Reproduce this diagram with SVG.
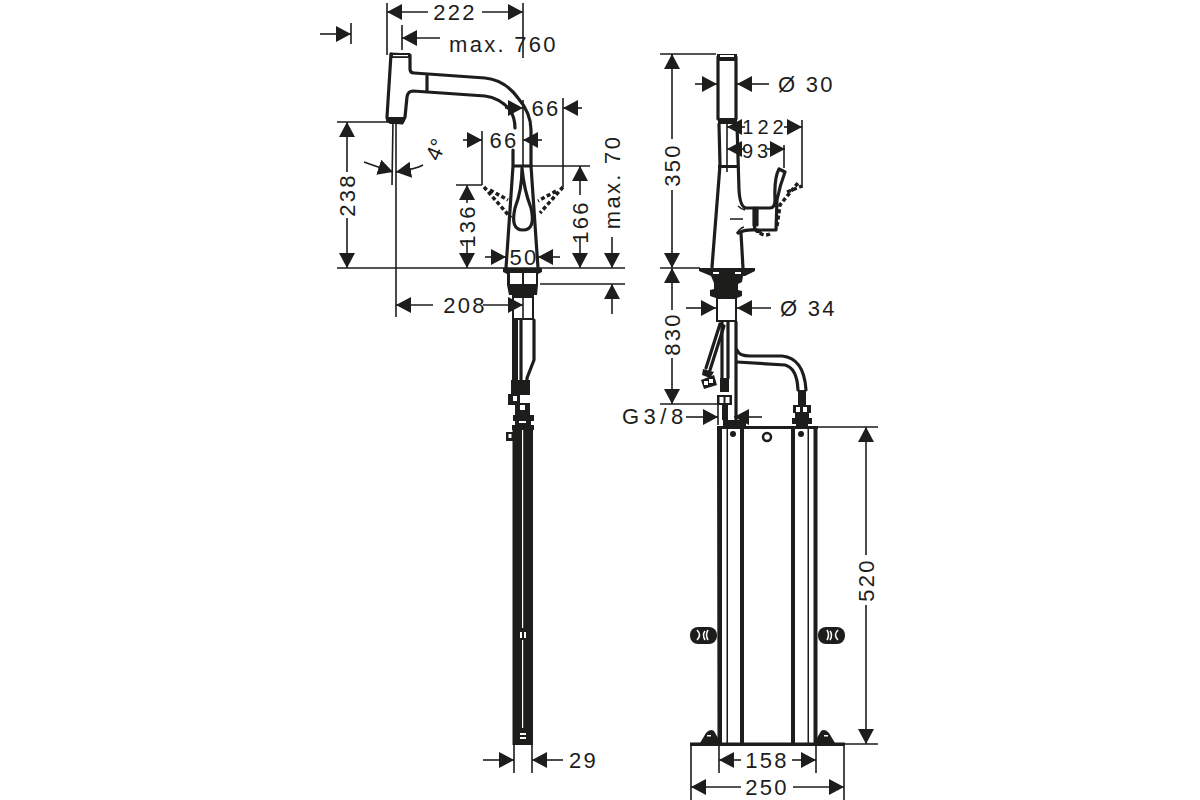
<svg xmlns="http://www.w3.org/2000/svg" width="1200" height="800" viewBox="0 0 1200 800">
<style>
text{font-family:"Liberation Sans",Arial,sans-serif;font-size:22px;fill:#1d1d1b;letter-spacing:2.3px}
.m{text-anchor:middle}
.n{font-size:20px;letter-spacing:4px}
.d{stroke:#1d1d1b;stroke-width:1.6;fill:none}
.a{stroke:#1d1d1b;stroke-width:1.6;fill:none;marker-end:url(#ar)}
.o{stroke:#1d1d1b;stroke-width:3.2;fill:none;stroke-linejoin:round;stroke-linecap:round}
.t{stroke:#1d1d1b;stroke-width:1.5;fill:none}
.s{stroke:#1d1d1b;stroke-width:3.5;fill:none;stroke-dasharray:4 2.5}
.v{stroke:#fff;stroke-width:1.5;fill:none}
.k{fill:#1d1d1b}
.w{fill:#fff}
</style>
<defs>
<marker id="ar" markerUnits="userSpaceOnUse" markerWidth="16" markerHeight="18" refX="15" refY="9" orient="auto"><path d="M0 1L15 9L0 17Z" fill="#1d1d1b"/></marker>
</defs>
<rect width="1200" height="800" fill="#fff"/>

<g id="faucet-side">
<path class="o" d="M391 54L410 55L410 69Q410 73 414 73L485 78Q505 80 518 98Q531 113 531 130L531 166"/>
<path class="o" d="M391 54L387 117Q387 121 391 122L402 123L405 117L407 97Q408 91 413 91L485 96Q500 98 510 110Q515 118 515 128"/>
<rect class="k" x="391" y="53" width="19" height="5"/>
<rect class="w" x="393" y="55" width="15" height="1.200"/>
<path class="k" d="M386 117H405V121L402 124H390L386 121Z"/>
<path class="o" d="M427 76L427 90"/>
<path class="o" d="M513 150L513 166M513 166L531 166M513 166L506 268M531 166L538 268"/>
<path class="o" d="M522 168Q522 190 515 208Q510 230 523 230Q536 230 531 208Q524 190 522 168"/>
<path class="s" d="M484 187L511 218M490 190L508 200M563 187L540 213M556 191L538 201"/>
<path class="k" d="M503 268H542V272L538 274V285L537 295H534V320H512V295H509L507 285V274L503 272Z"/>
<rect class="w" x="510" y="273" width="12" height="11"/>
<rect class="w" x="524" y="273" width="12" height="11"/>
<rect class="w" x="514" y="298" width="18" height="20"/>
<path class="d" d="M523 298V318"/>
<path class="k" d="M510 285H537V292L529 296L522 297L514 294Z"/>
<path class="k" d="M512 320H518V382H512Z"/>
<path class="o" d="M521 320V380M534 320V360L527 378V385"/>
<path class="k" d="M511 380H530V395H511ZM508 394H520V405H508ZM515 403H530V416H515ZM513 415H534V421H531V425H534V430H512V425H515V421H513ZM506 432H514V441H506ZM512.500 425H533V745H512.500Z"/>
<rect class="w" x="513" y="396" width="4" height="5"/>
<rect class="w" x="520" y="405" width="5" height="5"/>
<rect class="w" x="508.500" y="434" width="3" height="4"/>
<rect class="w" x="519" y="421" width="7" height="2"/>
<rect class="w" x="522" y="430" width="1.200" height="198"/>
<rect class="w" x="522" y="640" width="1.200" height="88"/>
<rect class="w" x="520" y="632" width="2" height="6"/>
<rect class="w" x="524" y="632" width="2" height="6"/>
<rect class="w" x="520" y="733" width="6" height="2"/>
<rect class="w" x="520" y="737" width="6" height="2"/>
</g>

<g id="faucet-front">
<path class="o" d="M718 57V119M736 57V119"/>
<rect class="k" x="717" y="54" width="20" height="7"/>
<rect class="w" x="720" y="55" width="14" height="2"/>
<rect class="k" x="718" y="118" width="19" height="6"/>
<rect class="k" x="718" y="165" width="19" height="3"/>
<path class="o" d="M719 124L720 165L712 267M737 124L739 190Q740 207 746 208L770 208Q775 208 775 200Q774 178 779 169L785 172Q780 185 777 200L776 230L757 230"/>
<path class="o" d="M754 208V225Q755 232 760 232M757 208V225M738 233Q745 229 757 230M741 233L743 268"/>
<path class="t" d="M738 206Q741 209 745 210M730 219H743M737 233Q740 228 744 227"/>
<path class="s" d="M770 234Q763 237 757 231M777 226L780 205L792 190L798 183M787 192L802 186"/>
<path class="k" d="M699 268H755V271L745 276H743L742 282L738 284V290L742 291V296L737 298V322H716V298L710 296V290L714 289V283L711 276L699 271Z"/>
<rect class="w" x="713" y="272" width="6" height="2"/>
<rect class="w" x="735" y="272" width="6" height="2"/>
<rect class="w" x="718" y="299" width="17" height="21"/>
<path class="o" d="M722 322V378M728 322V378"/>
<path class="k" d="M720 378H729V392H720ZM717 395H732V405H717ZM722 405H728V420H722ZM723 420H746V427H723Z"/>
<rect class="w" x="719.500" y="397" width="4" height="6"/>
<rect class="w" x="725.500" y="397" width="4" height="6"/>
<path class="o" d="M736 322V420"/>
<path class="o" d="M720 324L706 368M724 326L710 370"/>
<path class="k" d="M703 369L714 372L710 378L702 375Z"/>
<path class="k" d="M701 380L714 375L717 385L704 389Z"/>
<rect class="w" x="704" y="381" width="4" height="4"/>
<rect class="w" x="709" y="379" width="4" height="4"/>
<path class="o" d="M737 350Q739 356 750 356H782Q804 358 806 390M737 362L785 365Q797 368 798 390"/>
<path class="k" d="M798 390H806V405H811V413H809V418H812V424H808V427H796V424H792V418H795V413H793V405H798Z"/>
<rect class="w" x="796" y="407" width="4" height="5"/>
<rect class="w" x="803" y="407" width="4" height="5"/>
</g>

<g id="mounting-box">
<path class="k" d="M717 426H818V429H817.500V744H813.500V429H795V744H791V429H744V744H740V429H722V744H717.500Z"/>
<rect class="k" x="726.500" y="429" width="1.500" height="315"/>
<rect class="k" x="807.500" y="429" width="1.500" height="315"/>
<circle class="k" cx="733" cy="434" r="3"/>
<circle class="k" cx="801" cy="434" r="3"/>
<circle cx="767" cy="437" r="4" fill="#fff" stroke="#1d1d1b" stroke-width="2.500"/>
<rect class="k" x="690" y="742.500" width="155" height="3.500"/>
<path class="k" d="M700 743L706 733Q710 728 714 731L718 738V743Z"/>
<path class="k" d="M835 743L829 733Q825 728 821 731L817 738V743Z"/>
<rect class="w" x="707" y="735" width="4" height="1.500"/>
<rect class="w" x="824" y="735" width="4" height="1.500"/>
<rect class="k" x="690" y="627" width="27" height="17" rx="8"/>
<rect class="k" x="818" y="627" width="27" height="17" rx="8"/>
<path class="v" d="M697 630Q702 635 697 640M705 631Q702 635 705 640M708 630Q705 635 708 640"/>
<path class="v" d="M838 630Q833 635 838 640M830 631Q833 635 830 640M827 630Q830 635 827 640"/>
</g>

<g id="connectors">
<path class="d" d="M387 3V55M523 3V58M523 100V165M351 23V44M402 25V50M337 122H392M337 268H625M540 284H625M393 120L392 185M396 122V317M563 98V187M482 131V185M456 185H482M531 166H590M660 54H716M660 268H700M660 404H718M802 120V188M727 119V172M784 145V168M718 404V425M817 427H878M845 744H878M719 746V773M816 746V773M691 746V800M844 746V800M514 745V773M532 745V773"/>
<path class="a" d="M428 12H387"/><path class="a" d="M482 12H523"/>
<path class="a" d="M320 34H351"/>
<path class="a" d="M440 38H402"/>
<path class="a" d="M347 172V122"/><path class="a" d="M347 218V268"/>
<path class="a" d="M364 162Q372 165 393 172"/><path class="a" d="M423 165Q416 169 396 172"/>
<path class="a" d="M505 108H523"/><path class="a" d="M582 108H563"/>
<path class="a" d="M463 140H482"/><path class="a" d="M542 140H523"/>
<path class="a" d="M467 203V185"/><path class="a" d="M467 240V268"/>
<path class="a" d="M580 195V166"/><path class="a" d="M580 237V268"/>
<path class="a" d="M612 237V268"/>
<path class="a" d="M485 257H506"/><path class="a" d="M560 257H538"/>
<path class="a" d="M612 314V284"/>
<path class="a" d="M433 305H396"/><path class="a" d="M483 305H523"/>
<path class="a" d="M483 760H514"/><path class="a" d="M563 760H532"/>
<path class="a" d="M672 139V54"/><path class="a" d="M672 190V268"/>
<path class="a" d="M672 310V268"/><path class="a" d="M672 358V404"/>
<path class="a" d="M695 84H717"/><path class="a" d="M769 84H737"/>
<path class="a" d="M745 127H727"/><path class="a" d="M784 127H802"/>
<path class="a" d="M745 149H727"/><path class="a" d="M767 149H785"/>
<path class="a" d="M686 308H716"/><path class="a" d="M771 308H737"/>
<path class="a" d="M686 417H718"/><path class="a" d="M762 417H734"/>
<path class="a" d="M866 555V427"/><path class="a" d="M866 605V744"/>
<path class="a" d="M741 760H719"/><path class="a" d="M792 760H816"/>
<path class="a" d="M741 787H691"/><path class="a" d="M793 787H844"/>
</g>

<g id="labels">
<text class="m" x="455" y="20">222</text>
<text x="449" y="52">max. 760</text>
<text class="m" transform="translate(355 195) rotate(-90)">238</text>
<text transform="translate(439 162) rotate(-68)" style="letter-spacing:0">4°</text>
<text class="m" x="546" y="116">66</text>
<text class="m" x="504" y="148">66</text>
<text class="m" transform="translate(475 226) rotate(-90)">136</text>
<text class="m" transform="translate(588 222) rotate(-90)">166</text>
<text class="m" transform="translate(620 182) rotate(-90)">max. 70</text>
<text class="m" x="524" y="265">50</text>
<text class="m" x="465" y="313">208</text>
<text x="569" y="768">29</text>
<text class="m" transform="translate(680 165) rotate(-90)">350</text>
<text class="m" transform="translate(680 334) rotate(-90)">830</text>
<text x="778" y="92">Ø 30</text>
<text class="m n" x="765" y="134">122</text>
<text class="m n" x="757" y="158">93</text>
<text x="780" y="316">Ø 34</text>
<text x="622" y="424" style="letter-spacing:4.500px">G3/8</text>
<text class="m" transform="translate(874 580) rotate(-90)">520</text>
<text class="m" x="767" y="768">158</text>
<text class="m" x="767" y="795">250</text>
</g>
</svg>
